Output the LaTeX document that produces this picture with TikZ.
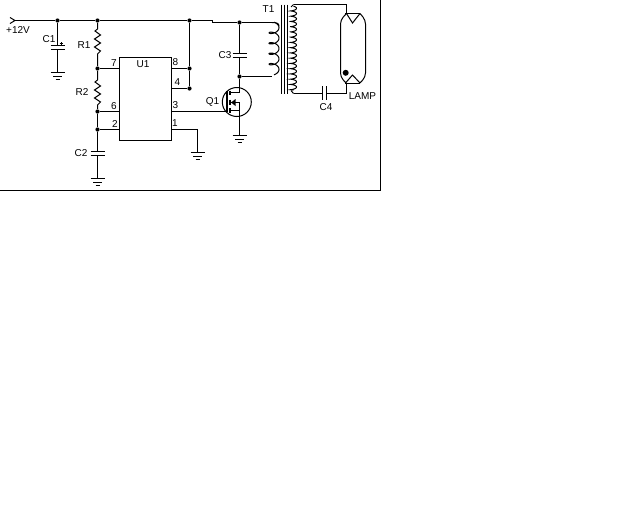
\documentclass[tikz,border=0pt]{standalone}
\usepackage{fontspec}
\setmainfont{Liberation Sans}
\begin{document}
\begin{tikzpicture}[x=1pt,y=-1pt,line width=1pt,
 lab/.style={inner sep=0pt,font=\fontsize{10}{10}\selectfont},
 dot/.style={circle,fill=black,inner sep=0pt,minimum size=4.2pt}]
\useasboundingbox (0,0) rectangle (640,512);
\fill[white] (0,0) rectangle (640,512);
% frame
\draw[line width=1.2pt] (380.5,0) -- (380.5,190.5) -- (0,190.5);
% IC
\node[draw,line width=1pt,outer sep=0pt,minimum width=52pt,minimum height=83pt,inner sep=0pt,anchor=north west] (U) at (119.5,57.5) {};
% junctions
\coordinate (in) at (15,20.5);
\node[dot] (j1) at (57.5,20.5) {};
\node[dot] (j2) at (97.5,20.5) {};
\node[dot] (j3) at (189.5,20.5) {};
\node[dot] (j4) at (239.5,22.5) {};
\node[dot] (j5) at (97.5,68.5) {};
\node[dot] (j6) at (97.5,111.5) {};
\node[dot] (j7) at (97.5,129.5) {};
\node[dot] (j8) at (189.5,68.5) {};
\node[dot] (j9) at (189.5,88.5) {};
\node[dot] (j10) at (239.5,76.5) {};
\coordinate (p7) at (119.5,68.5);
\coordinate (p6) at (119.5,111.5);
\coordinate (p2) at (119.5,129.5);
\coordinate (p8) at (171.5,68.5);
\coordinate (p4) at (171.5,88.5);
\coordinate (p3) at (171.5,111.5);
\coordinate (p1) at (171.5,129.5);
% supply rail
\draw (10,17.5) -- (in) -- (10,23.5);
\draw (in) -- (j1) -- (j2) -- (j3) -- (212.5,20.5) -- (212.5,22.5) -- (j4) -- (272,22.5);
% C1
\coordinate (c1a) at (57.5,45.5);
\coordinate (c1b) at (57.5,49.5);
\coordinate (g1) at (57.5,72.5);
\draw (j1) -- (c1a) (c1b) -- (g1);
\draw (50.5,45.5) -- (64.5,45.5) (50.5,49.5) -- (64.5,49.5);
\draw[line width=0.8pt] (59.5,43.5) -- (63,43.5) (61.2,42) -- (61.2,45);
% R1, R2
\draw (j2) -- (97.5,29) -- (95,31) -- (100.5,35) -- (94.5,39) -- (100.5,43) -- (94.5,47) -- (100.5,51) -- (97.5,54) -- (j5);
\draw (j5) -- (97.5,80) -- (95,82) -- (100.5,86) -- (94.5,90) -- (100.5,94) -- (94.5,98) -- (100.5,102) -- (97.5,105) -- (j6);
\draw (j6) -- (j7) -- (97.5,151.5);
\draw (j5) -- (p7) (j6) -- (p6) (j7) -- (p2);
% C2
\coordinate (g2) at (97.5,178.5);
\draw (90.5,151.5) -- (104.5,151.5) (90.5,155.5) -- (104.5,155.5);
\draw (97.5,155.5) -- (g2);
% pins right
\draw (p8) -- (j8) (p4) -- (j9) (j3) -- (j8) -- (j9);
\coordinate (g3) at (197.5,152.5);
\draw (p1) -- (197.5,129.5) -- (g3);
% grounds
\foreach \x/\y in {57.5/72.5,97.5/178.5,197.5/152.5,239.5/135.5}{
 \draw (\x-7,\y) -- (\x+7,\y) (\x-4.5,\y+4) -- (\x+4.5,\y+4) (\x-2,\y+7) -- (\x+2,\y+7);
}
% C3
\draw (j4) -- (239.5,53.5) (239.5,57.5) -- (j10);
\draw (232.5,53.5) -- (246.5,53.5) (232.5,57.5) -- (246.5,57.5);
% MOSFET
\node[draw,circle,minimum size=29pt,inner sep=0pt,line width=1pt] (Q) at (236.8,102) {};
\draw (j10) -- (239.5,92.5) -- (229,92.5);
\draw (p3) -- (226,111.5);
\draw[line width=2pt] (227,91) -- (227,112);
\draw (229,102.5) -- (239.5,102.5);
\draw (229,110.5) -- (239.5,110.5) -- (239.5,135.5);
\draw (239.5,102.5) -- (239.5,110.5);
\fill (231,102.5) -- (235.5,99) -- (235.5,106) -- cycle;
\draw[line width=2pt] (230.4,90.5) -- (230.4,94.5) (230.4,99.5) -- (230.4,104.5) (230.4,108) -- (230.4,112.5);
% T1 core
\draw (281.5,4.5) -- (281.5,94) (284.5,4.5) -- (284.5,94) (287.5,4.5) -- (287.5,94);
% primary
\draw (j10) -- (272,76.5);
\draw plot[smooth,domain=-90:1530,samples=160] ({274+5*cos(\x)},{25+(\x+90)/1620*47+2.8*sin(\x)});
\draw (272,22.5) .. controls (276,22.5) and (279,23) .. (279,26);
% secondary
\draw plot[smooth,domain=-90:5670,samples=400] ({293.5+3*cos(\x)},{7+(\x+90)/5760*84+0.8*sin(\x)});
\draw (293.5,4.5) -- (346.5,4.5) -- (346.5,14);
\draw (293.5,93.5) -- (322.5,93.5) (326.5,93.5) -- (346.5,93.5) -- (346.5,83.5);
\draw (293.5,4.5) -- (291,7) (293.5,93.5) -- (291,90.5);
% C4
\draw (322.5,86) -- (322.5,100) (326.5,86) -- (326.5,100);
% lamp
\draw[rounded corners=4pt] (346.5,13.5) -- (340.5,20) -- (340.5,77) -- (346,83);
\draw[rounded corners=4pt] (360,13.5) -- (365.5,20) -- (365.5,77) -- (360,83);
\draw (345,13.5) -- (360,13.5);
\draw (346.5,13.5) -- (352.5,23) -- (360,13.5);
\draw (345,83.5) -- (360,83.5);
\draw (345.5,83) -- (352.5,75) -- (360,83);
\fill (345.7,72.8) circle (3pt);
% labels
\node[lab] (t1) at (18,30) {+12V};
\node[lab] (t2) at (49,39) {C1};
\node[lab] (t3) at (84,45.5) {R1};
\node[lab] (t4) at (82,92) {R2};
\node[lab] (t5) at (81,153) {C2};
\node[lab] at (114,63) {7};
\node[lab] at (114,106) {6};
\node[lab] at (115,124) {2};
\node[lab] at (143,64) {U1};
\node[lab] at (175.5,62) {8};
\node[lab] at (177.5,82) {4};
\node[lab] at (175.5,105) {3};
\node[lab] at (175,123) {1};
\node[lab] at (212.5,102) {Q1};
\node[lab] at (225,55) {C3};
\node[lab] at (268.5,9) {T1};
\node[lab] at (326,107) {C4};
\node[lab] at (362.5,96) {LAMP};
\end{tikzpicture}
\end{document}
